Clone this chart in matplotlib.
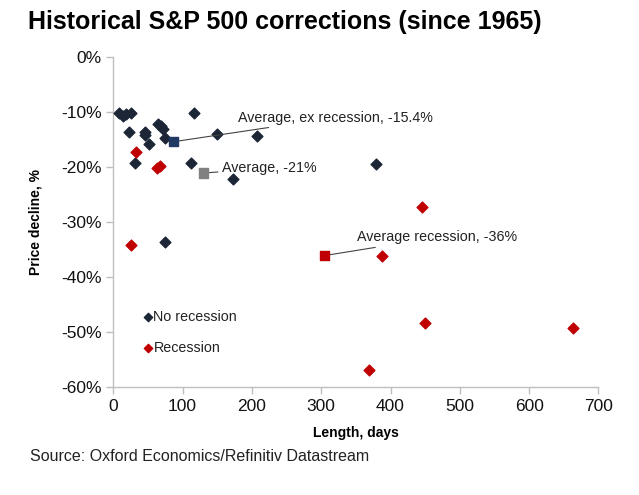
import numpy as np
import matplotlib
matplotlib.use("Agg")
from matplotlib import pyplot as plt
from matplotlib.ticker import FuncFormatter

plt.rcParams['font.family'] = ['Liberation Sans', 'DejaVu Sans']

# corrections without recession (length in days, price decline in %)
norec_days = [8, 14, 19, 25, 23, 46, 46, 51, 65, 69, 72, 75, 117, 32, 112, 150, 207, 172, 379, 75]
norec_pct = [-10.2, -10.8, -10.4, -10.1, -13.6, -13.6, -14.2, -15.9, -12.1, -12.5, -13.1, -14.7,
             -10.1, -19.2, -19.3, -14.0, -14.4, -22.2, -19.5, -33.6]

# corrections with recession
rec_days = [33, 63, 67, 25, 445, 388, 450, 663, 369]
rec_pct = [-17.2, -20.2, -19.9, -34.1, -27.2, -36.2, -48.3, -49.3, -56.9]

# averages
avg_labels = ['Average, ex recession, -15.4%', 'Average, -21%', 'Average recession, -36%']
avg_days = [87, 130, 305]
avg_pct = [-15.4, -21.1, -36.1]
avg_colors = ['#1f3864', '#808080', '#c00000']
label_pos = [(180, -11.0), (157, -20.2), (352, -32.8)]

navy = '#1c2636'
red = '#c00000'

fig = plt.figure(figsize=(6.39, 4.95), dpi=100)
ax = fig.add_axes([0.1773, 0.2182, 0.7593, 0.6666])

ax.scatter(norec_days, norec_pct, marker='D', s=30, color=navy, zorder=3)
ax.scatter(rec_days, rec_pct, marker='D', s=30, color=red, zorder=3)
ax.scatter(avg_days, avg_pct, marker='s', s=44, c=avg_colors, zorder=4)

for lab, x, y, pos in zip(avg_labels, avg_days, avg_pct, label_pos):
    ax.annotate(lab, xy=(x, y), xytext=pos, fontsize=10.3, color='#222222',
                va='center', ha='left',
                arrowprops=dict(arrowstyle='-', color='#444444', lw=0.8,
                                shrinkA=1, shrinkB=3))

# legend drawn as markers + text inside the axes
ax.scatter([50], [-47.2], marker='D', s=18, color=navy)
ax.text(58, -47.2, 'No recession', fontsize=10.3, va='center', color='#222222')
ax.scatter([50], [-53.0], marker='D', s=18, color=red)
ax.text(58, -53.0, 'Recession', fontsize=10.3, va='center', color='#222222')

ax.set_xlim(0, 700)
ax.set_ylim(-60, 0)
ax.set_xticks(np.arange(0, 701, 100))
ax.set_yticks(np.arange(-60, 1, 10))
ax.yaxis.set_major_formatter(FuncFormatter(lambda v, p: '%d%%' % v))
ax.tick_params(labelsize=12.5, length=5, color='#bfbfbf', width=1, labelcolor='#111111')

for s in ['top', 'right']:
    ax.spines[s].set_visible(False)
for s in ['left', 'bottom']:
    ax.spines[s].set_color('#bfbfbf')
    ax.spines[s].set_linewidth(1)

ax.set_xlabel('Length, days', fontsize=10, fontweight='bold', labelpad=9)
ax.set_ylabel('Price decline, %', fontsize=10, fontweight='bold', labelpad=13)

fig.text(0.044, 0.955, 'Historical S&P 500 corrections (since 1965)', fontsize=18,
         fontweight='bold', va='center', ha='left')
fig.text(0.047, 0.078, 'Source: Oxford Economics/Refinitiv Datastream', fontsize=11.5,
         va='center', ha='left', color='#222222')

fig.savefig('out.png', dpi=100)
